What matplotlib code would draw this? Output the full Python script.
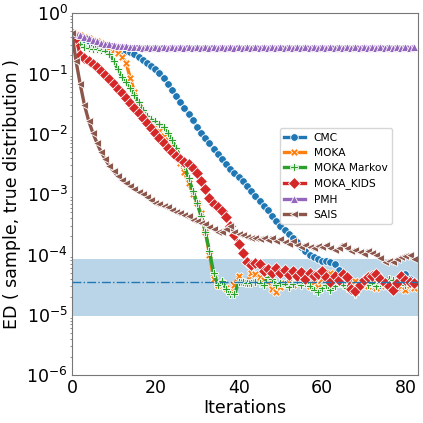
import numpy as np
import matplotlib
matplotlib.use("Agg")
import matplotlib.pyplot as plt

# iterations 0..82
iterations = np.arange(83)

# ED values, stored as log10(ED) (one value per iteration)
cmc_log = [
    -0.33, -0.37, -0.40, -0.43, -0.46, -0.49, -0.52, -0.54, -0.56, -0.58,
    -0.59, -0.60, -0.61, -0.62, -0.64, -0.67, -0.72, -0.77, -0.82, -0.87,
    -0.93, -0.99, -1.07, -1.17, -1.27, -1.37, -1.47, -1.57, -1.67, -1.77,
    -1.88, -1.98, -2.07, -2.16, -2.25, -2.34, -2.42, -2.50, -2.58, -2.65,
    -2.72, -2.79, -2.87, -2.95, -3.03, -3.11, -3.19, -3.27, -3.36, -3.44,
    -3.52, -3.59, -3.66, -3.73, -3.80, -3.87, -3.94, -4.01, -4.04, -4.08,
    -4.10, -4.11, -4.13, -4.16, -4.26, -4.38, -4.42, -4.44, -4.47, -4.49,
    -4.50, -4.51, -4.53, -4.54, -4.50, -4.47, -4.49, -4.45, -4.47, -4.40,
    -4.32, -4.40, -4.46]

moka_log = [
    -0.33, -0.35, -0.37, -0.40, -0.42, -0.44, -0.46, -0.49, -0.53, -0.57,
    -0.61, -0.66, -0.72, -0.82, -1.08, -1.30, -1.55, -1.69, -1.75, -1.80,
    -1.87, -1.95, -2.03, -2.11, -2.20, -2.32, -2.48, -2.64, -2.82, -2.99,
    -3.15, -3.32, -3.62, -4.00, -4.40, -4.50, -4.47, -4.55, -4.60, -4.50,
    -4.35, -4.45, -4.48, -4.30, -4.33, -4.38, -4.43, -4.48, -4.57, -4.62,
    -4.54, -4.48, -4.45, -4.50, -4.44, -4.38, -4.47, -4.52, -4.45, -4.54,
    -4.40, -4.32, -4.30, -4.44, -4.48, -4.45, -4.52, -4.49, -4.44, -4.50,
    -4.46, -4.52, -4.48, -4.55, -4.47, -4.52, -4.45, -4.50, -4.56, -4.52,
    -4.58, -4.50, -4.55]

moka_markov_log = [
    -0.33, -0.45, -0.51, -0.56, -0.58, -0.59, -0.60, -0.61, -0.62, -0.67,
    -0.79, -0.93, -1.06, -1.14, -1.24, -1.35, -1.48, -1.60, -1.70, -1.75,
    -1.79, -1.83, -1.89, -1.98, -2.10, -2.24, -2.39, -2.53, -2.74, -2.94,
    -3.14, -3.37, -3.62, -3.95, -4.30, -4.50, -4.44, -4.57, -4.65, -4.66,
    -4.46, -4.45, -4.48, -4.47, -4.45, -4.48, -4.51, -4.37, -4.40, -4.51,
    -4.48, -4.49, -4.54, -4.49, -4.45, -4.50, -4.47, -4.52, -4.58, -4.62,
    -4.55, -4.50, -4.58, -4.52, -4.48, -4.50, -4.55, -4.58, -4.65, -4.48,
    -4.45, -4.50, -4.47, -4.52, -4.48, -4.45, -4.40, -4.43, -4.48, -4.45,
    -4.50, -4.46, -4.48]

moka_kids_log = [
    -0.33, -0.42, -0.70, -0.74, -0.79, -0.84, -0.90, -0.96, -1.03, -1.10,
    -1.17, -1.25, -1.33, -1.41, -1.49, -1.57, -1.65, -1.74, -1.82, -1.90,
    -1.98, -2.07, -2.15, -2.23, -2.30, -2.36, -2.41, -2.46, -2.50, -2.56,
    -2.65, -2.78, -2.92, -3.06, -3.16, -3.22, -3.28, -3.38, -3.53, -3.68,
    -3.82, -3.98, -4.12, -4.17, -4.14, -4.15, -4.28, -4.24, -4.30, -4.22,
    -4.30, -4.26, -4.34, -4.28, -4.36, -4.29, -4.40, -4.30, -4.36, -4.32,
    -4.28, -4.38, -4.45, -4.35, -4.42, -4.33, -4.37, -4.57, -4.60, -4.50,
    -4.42, -4.38, -4.35, -4.32, -4.40, -4.48, -4.52, -4.58, -4.48, -4.36,
    -4.42, -4.46, -4.48]

pmh_log = [
    -0.31, -0.34, -0.36, -0.39, -0.42, -0.44, -0.47, -0.49, -0.51, -0.52,
    -0.53, -0.54, -0.55, -0.55, -0.56, -0.56, -0.56, -0.57, -0.56, -0.57,
    -0.56, -0.57, -0.56, -0.57, -0.56, -0.57, -0.56, -0.57, -0.56, -0.57,
    -0.56, -0.57, -0.56, -0.57, -0.56, -0.57, -0.56, -0.57, -0.56, -0.57,
    -0.56, -0.57, -0.56, -0.57, -0.56, -0.57, -0.56, -0.57, -0.56, -0.57,
    -0.56, -0.57, -0.56, -0.57, -0.56, -0.57, -0.56, -0.57, -0.56, -0.57,
    -0.56, -0.57, -0.56, -0.57, -0.56, -0.57, -0.56, -0.57, -0.56, -0.57,
    -0.56, -0.57, -0.56, -0.57, -0.56, -0.57, -0.56, -0.57, -0.56, -0.57,
    -0.56, -0.57, -0.56]

sais_log = [
    -0.33, -0.80, -1.18, -1.52, -1.78, -1.98, -2.15, -2.30, -2.42, -2.53,
    -2.62, -2.70, -2.76, -2.82, -2.87, -2.92, -2.96, -3.00, -3.04, -3.10,
    -3.14, -3.17, -3.20, -3.22, -3.27, -3.29, -3.31, -3.35, -3.37, -3.42,
    -3.45, -3.47, -3.50, -3.55, -3.58, -3.63, -3.62, -3.58, -3.53, -3.62,
    -3.66, -3.68, -3.71, -3.73, -3.72, -3.74, -3.73, -3.76, -3.72, -3.78,
    -3.74, -3.80, -3.82, -3.78, -3.85, -3.88, -3.84, -3.87, -3.90, -3.86,
    -3.88, -3.85, -3.89, -3.93, -3.90, -3.84, -3.90, -3.95, -3.92, -3.96,
    -3.99, -3.94, -3.98, -4.00, -4.05, -4.12, -4.11, -4.12, -4.08, -4.04,
    -4.02, -4.01, -4.07]

labels = ["CMC", "MOKA", "MOKA Markov", "MOKA_KIDS", "PMH", "SAIS"]
series = [cmc_log, moka_log, moka_markov_log, moka_kids_log, pmh_log, sais_log]
markers = ["o", "X", "P", "D", "^", "<"]
msizes = [5.5, 5.5, 5.5, 6.5, 5.5, 5.5]
colors = ["#1f77b4", "#ff7f0e", "#2ca02c", "#d62728", "#9467bd", "#8c564b"]

# reference level and band (true-distribution self-distance)
ref_level = 3.5e-5
band_low, band_high = 9.5e-6, 8.3e-5

fig = plt.figure(figsize=(4.23, 4.23), dpi=100)
ax = fig.add_axes([0.170, 0.113, 0.818, 0.856])

ax.axhspan(band_low, band_high, color="#1f77b4", alpha=0.3, lw=0, zorder=0)

for lab, vals, mk, ms, col in zip(labels, series, markers, msizes, colors):
    ax.plot(iterations, np.power(10.0, vals), color=col, lw=2.4, marker=mk,
            markersize=ms, markeredgecolor="white", markeredgewidth=0.6,
            label=lab, zorder=2)

ax.axhline(ref_level, color="#1f77b4", lw=1.0, ls="-.", zorder=3)

ax.set_yscale("log")
ax.set_ylim(1e-6, 1)
ax.set_xlim(0, 83)
ax.set_xticks([0, 20, 40, 60, 80])

for sp in ax.spines.values():
    sp.set_color("#777777")
ax.tick_params(which="major", length=0, pad=3, labelsize=12.5)
ax.tick_params(which="minor", length=1.8, width=0.6, color="#777777")
ax.tick_params(axis="x", which="minor", length=0)

ax.set_xlabel("Iterations", fontsize=12.5, labelpad=1)
ax.set_ylabel("ED ( sample, true distribution )", fontsize=12.5, labelpad=4)

ax.legend(loc="upper left", bbox_to_anchor=(0.60, 0.682), fontsize=7.7,
          frameon=True, borderaxespad=0)

fig.savefig("out.png", dpi=100)
